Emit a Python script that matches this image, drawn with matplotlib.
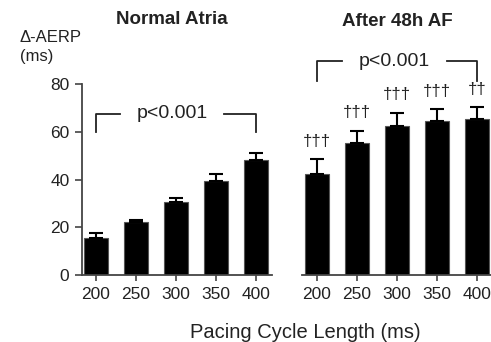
import matplotlib
matplotlib.use("Agg")
import matplotlib.pyplot as plt

plt.rcParams['font.family'] = ['Liberation Sans', 'DejaVu Sans']

# pacing cycle lengths (ms)
cycle_lengths = ["200", "250", "300", "350", "400"]

# Normal atria: delta-AERP mean and SEM
normal_mean = [15.5, 22.0, 30.5, 39.5, 48.0]
normal_err = [2.0, 1.0, 1.8, 3.0, 3.0]

# After 48h AF
af_mean = [42.5, 55.5, 62.5, 64.5, 65.5]
af_err = [6.0, 5.0, 5.5, 5.0, 4.8]
af_marks = ["†††", "†††", "†††", "†††", "††"]

p_text = "p<0.001"

ink = "#222222"
fig = plt.figure(figsize=(4.91, 3.42), dpi=100)
ax1 = fig.add_axes([82 / 491, 0.196, (272 - 82) / 491, 0.558])
ax2 = fig.add_axes([302 / 491, 0.196, (491 - 302) / 491, 0.558])

x = list(range(len(cycle_lengths)))

for ax, mean, err in [(ax1, normal_mean, normal_err), (ax2, af_mean, af_err)]:
    ax.bar(x, mean, width=0.62, color="black", edgecolor="#555555", linewidth=0.8)
    ax.errorbar(x, mean, yerr=[[0] * len(mean), err], fmt="none",
                ecolor="black", elinewidth=1.5, capsize=5, capthick=1.5)
    ax.set_ylim(0, 80)
    ax.set_xticks(x)
    ax.set_xticklabels(cycle_lengths, fontsize=12.5, color=ink)
    for s in ["top", "right"]:
        ax.spines[s].set_visible(False)
    ax.spines["bottom"].set_color("#444444")
    ax.spines["bottom"].set_linewidth(1.3)
    ax.tick_params(axis="x", length=4, width=1.2, color="#444444", pad=5)

ax1.set_xlim(-0.35, 4.4)
ax2.set_xlim(-0.375, 4.35)

ax1.set_yticks([0, 20, 40, 60, 80])
ax1.tick_params(axis="y", length=5, width=1.2, color="#444444", labelsize=12.5,
                labelcolor=ink, pad=4)
ax1.spines["left"].set_color("#444444")
ax1.spines["left"].set_linewidth(1.3)

ax2.spines["left"].set_visible(False)
ax2.set_yticks([])

# significance daggers
for xi, m, e, t in zip(x, af_mean, af_err, af_marks):
    ax2.text(xi, m + e + 7.5, t, ha="center", va="center", fontsize=12, color=ink)

# brackets
def bracket(ax, x0, x1, ytop, ylow, gap0, gap1):
    ax.plot([x0, x0, gap0], [ylow, ytop, ytop], color=ink, lw=1.3, clip_on=False)
    ax.plot([gap1, x1, x1], [ytop, ytop, ylow], color=ink, lw=1.3, clip_on=False)
    ax.text((gap0 + gap1) / 2, ytop, p_text, ha="center", va="center",
            fontsize=14, color=ink, clip_on=False)

bracket(ax1, 0, 4, 67.5, 60, 0.6, 3.2)
bracket(ax2, 0, 4, 89.5, 81.5, 0.63, 3.25)

fig.text(172 / 491, 1 - 19 / 342, "Normal Atria", ha="center", va="center",
         fontsize=13.5, fontweight="bold", color=ink)
fig.text(397 / 491, 1 - 21 / 342, "After 48h AF", ha="center", va="center",
         fontsize=13.5, fontweight="bold", color=ink)
fig.text(20 / 491, 1 - 37.5 / 342, "Δ-AERP", ha="left", va="center",
         fontsize=12, color=ink)
fig.text(20 / 491, 1 - 57 / 342, "(ms)", ha="left", va="center",
         fontsize=12, color=ink)
fig.text(305 / 491, 1 - 332 / 342, "Pacing Cycle Length (ms)", ha="center",
         va="center", fontsize=14.5, color=ink)

fig.savefig("out.png", dpi=100)
